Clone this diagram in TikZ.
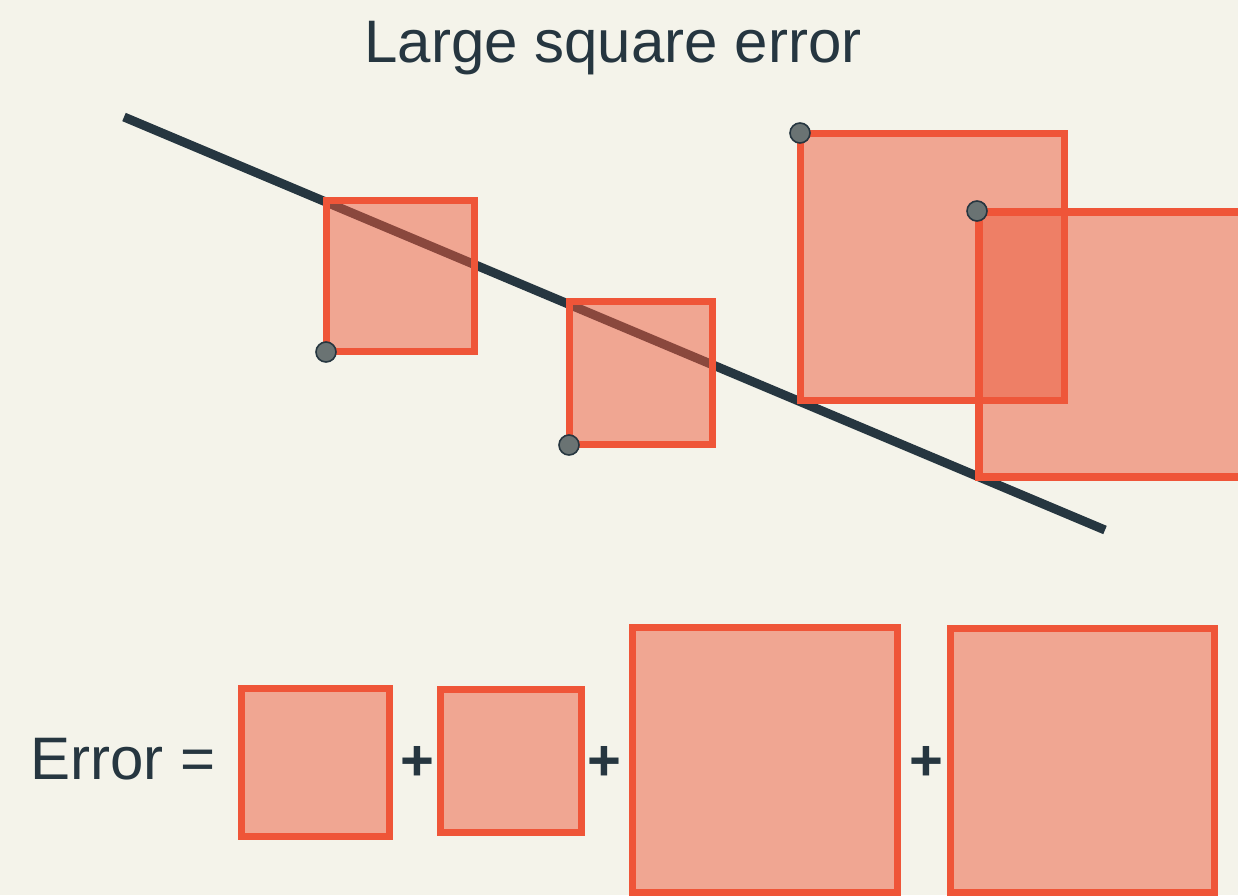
\documentclass[tikz,border=0pt]{standalone}
\usepackage{fontspec}
\setmainfont{Liberation Sans}
\definecolor{bgcol}{HTML}{F4F3EA}
\definecolor{inkcol}{HTML}{263640}
\definecolor{sqline}{HTML}{EF5538}
\definecolor{sqfill}{HTML}{EE5A3C}
\definecolor{dotfill}{HTML}{6A7373}
\tikzset{
  sqbox/.style={draw=sqline, line width=7.5pt, fill=sqfill, fill opacity=0.5, line join=miter},
  datadot/.style={circle, draw=inkcol, line width=1.6pt, fill=dotfill, inner sep=0pt, minimum size=20pt},
  bigtext/.style={text=inkcol, font=\fontsize{60}{72}\selectfont, inner sep=0pt},
  plustext/.style={text=inkcol, font=\fontsize{58}{70}\selectfont\bfseries, inner sep=0pt},
  fitline/.style={draw=inkcol, line width=9pt, line cap=butt}
}
\begin{document}
\begin{tikzpicture}[x=1pt,y=-1pt]
\clip (0,0) rectangle (1238,895);
\fill[bgcol] (0,0) rectangle (1238,895);
% title
\node[bigtext, anchor=base] (title) at (613,62) {Large square error};
% regression line
\coordinate (l1) at (124,117);
\coordinate (l2) at (1105,530);
\draw[fitline] (l1) -- (l2);
% error squares
\draw[sqbox] (326.5,200.5) rectangle (474.5,351.5);
\draw[sqbox] (569.5,301.5) rectangle (712.5,444.5);
\draw[sqbox] (800.5,133.5) rectangle (1064.5,400.5);
\draw[sqbox] (979,212) rectangle (1244,477);
% data points
\node[datadot] (p1) at (326,352) {};
\node[datadot] (p2) at (569,445) {};
\node[datadot] (p3) at (800,133) {};
\node[datadot] (p4) at (977,211) {};
% bottom equation
\node[bigtext, anchor=base west] (err) at (30,779) {Error =};
\draw[sqbox] (241.5,688.5) rectangle (389.5,836.5);
\draw[sqbox] (440.5,689.5) rectangle (581.5,832.5);
\draw[sqbox] (632.5,627.5) rectangle (897.5,893);
\draw[sqbox] (950.5,628.5) rectangle (1214.5,893);
\node[plustext] (plus1) at (417.5,763) {+};
\node[plustext] (plus2) at (604,763) {+};
\node[plustext] (plus3) at (926,763) {+};
\end{tikzpicture}
\end{document}
